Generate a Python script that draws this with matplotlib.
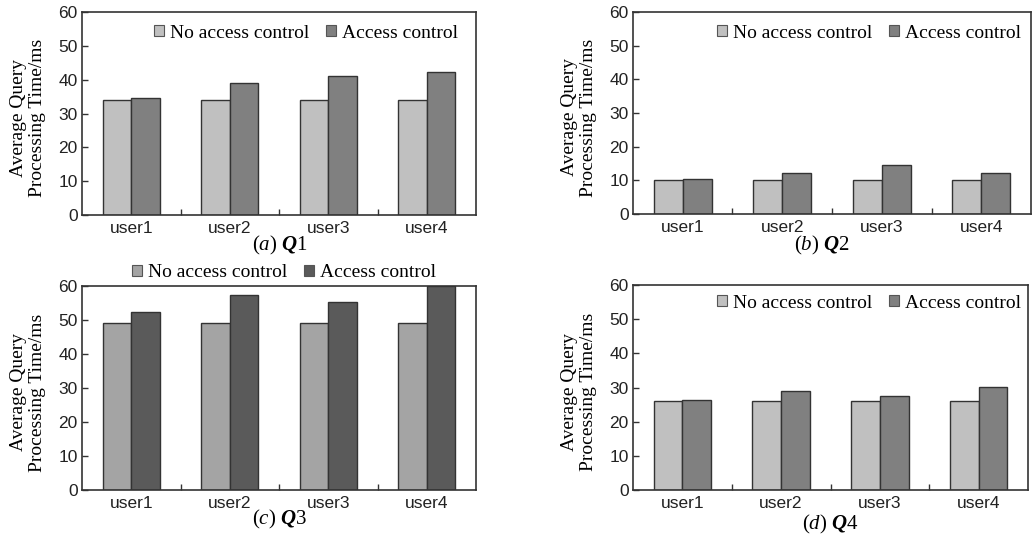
import numpy as np
import matplotlib
matplotlib.use('Agg')
import matplotlib.pyplot as plt
from matplotlib.patches import Patch

plt.rcParams['font.family'] = 'Liberation Serif'
plt.rcParams['mathtext.fontset'] = 'custom'
plt.rcParams['mathtext.rm'] = 'Liberation Serif'
plt.rcParams['mathtext.it'] = 'Liberation Serif:italic'
plt.rcParams['mathtext.bf'] = 'Liberation Serif:bold'
plt.rcParams['mathtext.bfit'] = 'Liberation Serif:italic:bold'

users = ["user1", "user2", "user3", "user4"]
series = ["No access control", "Access control"]

q1_none = [34.0, 34.0, 34.0, 34.0]
q1_ac = [34.7, 39.0, 41.0, 42.3]
q2_none = [10.2, 10.2, 10.2, 10.2]
q2_ac = [10.5, 12.3, 14.5, 12.3]
q3_none = [49.0, 49.0, 49.0, 49.0]
q3_ac = [52.3, 57.5, 55.3, 60.0]
q4_none = [26.0, 26.0, 26.0, 26.0]
q4_ac = [26.3, 29.0, 27.5, 30.2]

captions = [r"($\mathit{a}$) $\mathbfit{Q}$1", r"($\mathit{b}$) $\mathbfit{Q}$2",
            r"($\mathit{c}$) $\mathbfit{Q}$3", r"($\mathit{d}$) $\mathbfit{Q}$4"]

W, H = 1036, 539
fig = plt.figure(figsize=(W / 100, H / 100), dpi=100)


def px_axes(l, t, r, b):
    return fig.add_axes([l / W, 1 - b / H, (r - l) / W, (b - t) / H])


# pixel boxes, caption position, legend anchor (left of marker, center y)
panels = [
    dict(box=(82, 12, 476, 215), none=q1_none, ac=q1_ac, cap=(280, 245), leg=(154, 33),
         colors=("#c0c0c0", "#808080")),
    dict(box=(633, 12, 1031, 214), none=q2_none, ac=q2_ac, cap=(822, 245), leg=(717, 33),
         colors=("#c0c0c0", "#808080")),
    dict(box=(82, 286, 476, 490), none=q3_none, ac=q3_ac, cap=(280, 519), leg=(132, 273),
         colors=("#a4a4a4", "#5a5a5a")),
    dict(box=(633, 285, 1028, 490), none=q4_none, ac=q4_ac, cap=(830, 524), leg=(717, 303),
         colors=("#c0c0c0", "#808080")),
]

x = np.arange(len(users))
w = 0.29
edge = "#333333"

for i, p in enumerate(panels):
    ax = px_axes(*p["box"])
    c1, c2 = p["colors"]
    ax.bar(x - w / 2, p["none"], w, color=c1, edgecolor=edge, linewidth=1.0)
    ax.bar(x + w / 2, p["ac"], w, color=c2, edgecolor=edge, linewidth=1.0)
    ax.set_xlim(-0.5, 3.5)
    ax.set_ylim(0, 60)
    ax.set_yticks(range(0, 61, 10))
    ax.set_xticks(x)
    ax.set_xticklabels(users)
    ax.set_xticks([0.5, 1.5, 2.5], minor=True)
    ax.tick_params(axis='x', which='major', length=0, pad=4)
    ax.tick_params(axis='x', which='minor', direction='in', length=4, width=1, color=edge)
    ax.tick_params(axis='y', direction='in', length=4, width=1, color=edge, pad=3)
    for lab in ax.get_xticklabels() + ax.get_yticklabels():
        lab.set_fontfamily('Liberation Sans')
        lab.set_fontsize(12.5)
        lab.set_color("#222222")
    for s in ax.spines.values():
        s.set_linewidth(1.2)
        s.set_color(edge)
    ax.set_ylabel("Average Query\nProcessing Time/ms", fontsize=14, linespacing=1.15)
    l, t, r, b = p["box"]
    ax.yaxis.set_label_coords(-36 / (r - l), 0.478)

    handles = [Patch(facecolor=c1, edgecolor="#555555", linewidth=0.8),
               Patch(facecolor=c2, edgecolor="#555555", linewidth=0.8)]
    lx, ly = p["leg"]
    ax.legend(handles, series, loc='center left', bbox_to_anchor=(lx / W, 1 - ly / H),
              bbox_transform=fig.transFigure, ncol=2, frameon=False, fontsize=14,
              handlelength=0.5, handleheight=0.5, handletextpad=0.3,
              columnspacing=0.9, borderpad=0, borderaxespad=0)

    cx, cy = p["cap"]
    fig.text(cx / W, 1 - cy / H, captions[i], ha='center', va='center', fontsize=15)

fig.savefig("out.png", dpi=100)
